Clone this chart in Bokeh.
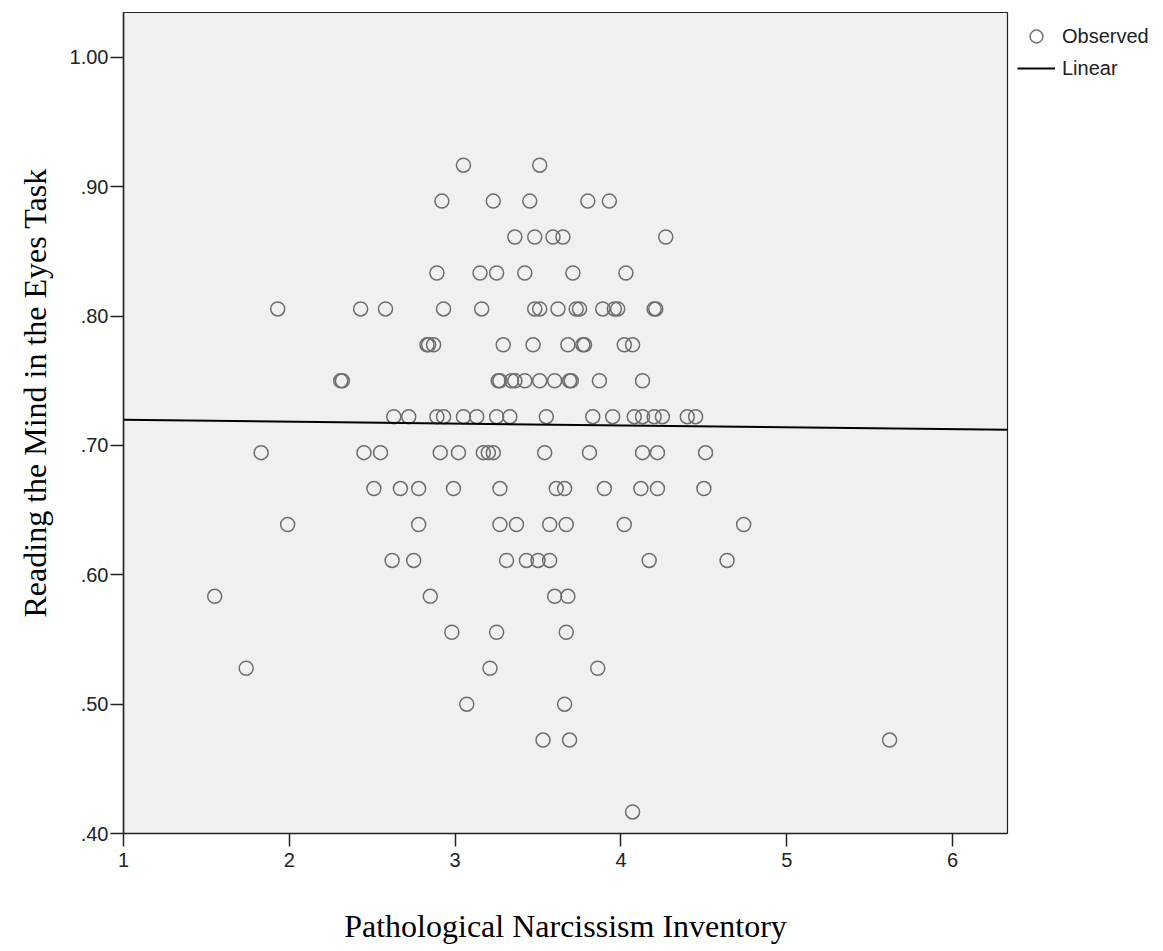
import math
from bokeh.plotting import figure
from bokeh.layouts import row
from bokeh.models import (Range1d, FixedTicker, CustomJSTickFormatter,
                          Legend, LegendItem, ColumnDataSource, Title)
from bokeh.embed import file_html
from bokeh.resources import INLINE

# ---- data ----
# Reading the Mind in the Eyes Task score = correct / 36
rmet_correct = ([33] * 2 + [32] * 5 + [31] * 5 + [30] * 6 + [29] * 15 + [28] * 10 +
                [27] * 13 + [26] * 17 + [25] * 13 + [24] * 11 + [23] * 8 + [22] * 8 +
                [21] * 4 + [20] * 3 + [19] * 3 + [18] * 2 + [17] * 3 + [15] * 1)
pni = [
    3.05, 3.51,
    2.92, 3.23, 3.45, 3.80, 3.93,
    3.36, 3.48, 3.59, 3.65, 4.27,
    2.89, 3.15, 3.25, 3.42, 3.71, 4.03,
    1.93, 2.43, 2.58, 2.93, 3.16, 3.48, 3.51, 3.62, 3.73, 3.75, 3.89, 3.96, 3.98, 4.20, 4.21,
    2.83, 2.84, 2.87, 3.29, 3.47, 3.68, 3.77, 3.78, 4.02, 4.07,
    2.31, 2.32, 3.26, 3.27, 3.34, 3.36, 3.42, 3.51, 3.60, 3.69, 3.70, 3.87, 4.13,
    2.63, 2.72, 2.89, 2.93, 3.05, 3.13, 3.25, 3.33, 3.55, 3.83, 3.95, 4.08, 4.13, 4.20, 4.25, 4.40, 4.45,
    1.83, 2.45, 2.55, 2.91, 3.02, 3.17, 3.20, 3.23, 3.54, 3.81, 4.13, 4.22, 4.51,
    2.51, 2.67, 2.78, 2.99, 3.27, 3.61, 3.66, 3.90, 4.12, 4.22, 4.50,
    1.99, 2.78, 3.27, 3.37, 3.57, 3.67, 4.02, 4.74,
    2.62, 2.75, 3.31, 3.43, 3.50, 3.57, 4.17, 4.64,
    1.55, 2.85, 3.60, 3.68,
    2.98, 3.25, 3.67,
    1.74, 3.21, 3.86,
    3.07, 3.66,
    3.53, 3.69, 5.62,
    4.07,
]
rmet = [c / 36.0 for c in rmet_correct]

fit_intercept = 0.7213
fit_slope = -0.00146

x_ticks = [1, 2, 3, 4, 5, 6]
y_ticks = [0.40, 0.50, 0.60, 0.70, 0.80, 0.90, 1.00]
x_title = "Pathological Narcissism Inventory"
y_title = "Reading the Mind in the Eyes Task"
legend_labels = ["Observed", "Linear"]

x_lo, x_hi = 1.0, 6.331
y_lo, y_hi = 0.40, 1.0347

POINT_STYLE = dict(marker="circle", size=14, fill_color=None,
                   line_color="#6e6e6e", line_width=1.5)
LINE_STYLE = dict(line_color="black", line_width=2)

# ---- main figure ----
p = figure(width=1009, height=950, output_backend="svg", toolbar_location=None,
           x_range=Range1d(x_lo, x_hi), y_range=Range1d(y_lo, y_hi),
           min_border_left=122, min_border_right=2, min_border_top=12,
           min_border_bottom=117)
p.background_fill_color = "#F0F0F0"
p.border_fill_color = "white"
p.outline_line_color = "#222222"
p.outline_line_width = 1.2
p.xgrid.visible = False
p.ygrid.visible = False

src = ColumnDataSource(dict(x=pni, y=rmet))
p.scatter("x", "y", source=src, **POINT_STYLE)
lx = [x_lo, x_hi]
ly = [fit_intercept + fit_slope * v for v in lx]
fit_src = ColumnDataSource(dict(x=lx, y=ly))
p.line("x", "y", source=fit_src, **LINE_STYLE)

for ax in (p.xaxis[0], p.yaxis[0]):
    ax.axis_line_color = "#222222"
    ax.axis_line_width = 1.5
    ax.major_tick_line_color = "#222222"
    ax.major_tick_line_width = 1.5
    ax.major_tick_out = 13
    ax.major_tick_in = 0
    ax.minor_tick_out = 0
    ax.minor_tick_in = 0
    ax.major_label_text_font = "Liberation Sans"
    ax.major_label_text_font_size = "20px"
    ax.major_label_text_color = "#222222"

p.xaxis.major_label_standoff = 6
p.yaxis.major_label_standoff = 2
p.xaxis.axis_label = x_title
p.xaxis.axis_label_standoff = 38
p.xaxis.axis_label_text_font = "Liberation Serif"
p.xaxis.axis_label_text_font_size = "32px"
p.xaxis.axis_label_text_font_style = "normal"
p.xaxis.axis_label_text_color = "black"

p.xaxis.ticker = FixedTicker(ticks=x_ticks)
p.yaxis.ticker = FixedTicker(ticks=y_ticks)
p.yaxis.formatter = CustomJSTickFormatter(code="""
const s = tick.toFixed(2);
return s.startsWith('0') ? s.slice(1) : s;
""")

# y-axis title as a side title so it can sit off-centre like the reference
p.add_layout(Title(text=y_title, align="left", offset=216, vertical_align="bottom",
                   standoff=28, text_font="Liberation Serif", text_font_size="32px",
                   text_font_style="normal", text_color="black"), "left")

# ---- legend figure (sits to the right of the plot frame) ----
# its ranges lie away from the data, so only the legend samples are seen
pl = figure(width=154, height=950, output_backend="svg", toolbar_location=None,
            x_range=Range1d(-2, -1), y_range=Range1d(-2, -1),
            x_axis_type=None, y_axis_type=None,
            min_border_left=0, min_border_right=0, min_border_top=1,
            min_border_bottom=0)
pl.outline_line_color = None
pl.xgrid.visible = False
pl.ygrid.visible = False
pl.background_fill_color = "white"
pl.border_fill_color = "white"
lsc = pl.scatter("x", "y", source=src, **POINT_STYLE)
lln = pl.line("x", "y", source=fit_src, **LINE_STYLE)

legend = Legend(items=[LegendItem(label=legend_labels[0], renderers=[lsc]),
                       LegendItem(label=legend_labels[1], renderers=[lln])],
                location="top_left", margin=0, padding=8, spacing=0,
                glyph_width=38, glyph_height=32, label_height=32,
                label_standoff=7, label_text_font="Liberation Sans",
                label_text_font_size="20px", label_text_color="#222222",
                background_fill_alpha=0, border_line_alpha=0)
pl.add_layout(legend)

layout = row(p, pl, spacing=0)
open("out.html", "w").write(file_html(layout, INLINE))
